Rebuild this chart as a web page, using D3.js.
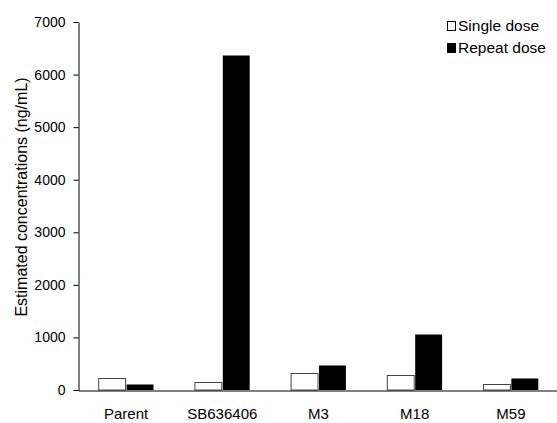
<!DOCTYPE html>
<html>
<head>
<meta charset="utf-8">
<script src="https://cdn.jsdelivr.net/npm/d3@7"></script>
<style>
  body { margin: 0; background: #fff; }
  text { font-family: "Liberation Sans", Arial, sans-serif; }
</style>
</head>
<body>
<div id="chart"></div>
<script>
// data
var categories = ["Parent", "SB636406", "M3", "M18", "M59"];
var seriesNames = ["Single dose", "Repeat dose"];
var singleDose = [232, 158, 317, 291, 114];
var repeatDose = [114, 6370, 475, 1065, 230];
var yTicks = [0, 1000, 2000, 3000, 4000, 5000, 6000, 7000];

var width = 557, height = 423;
var margin = { top: 22, right: 0, bottom: 33, left: 78 };

var svg = d3.select("#chart")
  .append("svg")
  .attr("width", width)
  .attr("height", height);

var x = d3.scaleBand()
  .domain(categories)
  .range([margin.left, 559])
  .paddingInner(0.42)
  .paddingOuter(0.21);

var xs = d3.scaleBand()
  .domain(seriesNames)
  .range([0, x.bandwidth()]);

var y = d3.scaleLinear()
  .domain([0, 7000])
  .range([height - margin.bottom, margin.top]);

var fills = { "Single dose": "#fff", "Repeat dose": "#000" };

var rows = categories.map(function(c, i) {
  return { cat: c, vals: [
    { s: "Single dose", v: singleDose[i] },
    { s: "Repeat dose", v: repeatDose[i] }
  ]};
});

// bars
var grp = svg.append("g").selectAll("g")
  .data(rows)
  .enter().append("g")
  .attr("transform", function(d) { return "translate(" + x(d.cat) + ",0)"; });

grp.selectAll("rect")
  .data(function(d) { return d.vals; })
  .enter().append("rect")
  .attr("x", function(d) { return xs(d.s) + 0.5; })
  .attr("y", function(d) { return Math.round(y(d.v)) + 0.5; })
  .attr("width", xs.bandwidth() - 1)
  .attr("height", function(d) { return y(0) - Math.round(y(d.v)) - 0.5; })
  .attr("fill", function(d) { return fills[d.s]; })
  .attr("stroke", function(d) { return d.s == "Single dose" ? "#444" : "none"; })
  .attr("stroke-width", 1);

// y axis
var yAxis = svg.append("g")
  .attr("transform", "translate(" + (margin.left + 0.5) + ",0)")
  .call(d3.axisLeft(y).tickValues(yTicks).tickFormat(d3.format("d"))
    .tickSize(5).tickPadding(8).tickSizeOuter(0));
yAxis.select(".domain").attr("stroke", "#000");
yAxis.selectAll("text").attr("font-size", 14).attr("fill", "#000")
  .style("font-family", "'Liberation Sans', Arial, sans-serif");

// x axis (plain line, labels only)
var xAxis = svg.append("g")
  .attr("transform", "translate(0," + (y(0) + 0.5) + ")")
  .call(d3.axisBottom(x).tickSize(0).tickPadding(18).tickSizeOuter(0));
xAxis.select(".domain").attr("stroke", "#000");
xAxis.selectAll("text").attr("font-size", 15).attr("fill", "#000")
  .style("font-family", "'Liberation Sans', Arial, sans-serif");

// y title
svg.append("text")
  .attr("transform", "translate(27," + ((y(0) + y(7000)) / 2 - 9) + ") rotate(-90)")
  .attr("text-anchor", "middle")
  .attr("font-size", 16)
  .text("Estimated concentrations (ng/mL)");

// legend
var legend = svg.append("g").attr("transform", "translate(447,21)");
var li = legend.selectAll("g")
  .data(seriesNames)
  .enter().append("g")
  .attr("transform", function(d, i) { return "translate(0," + (i * 22) + ")"; });
li.append("rect")
  .attr("x", 0.5).attr("y", 0.5)
  .attr("width", 8).attr("height", 9)
  .attr("fill", function(d) { return fills[d]; })
  .attr("stroke", "#000");
li.append("text")
  .attr("x", 11).attr("y", 10)
  .attr("font-size", 15.5)
  .text(function(d) { return d; });
</script>
</body>
</html>
